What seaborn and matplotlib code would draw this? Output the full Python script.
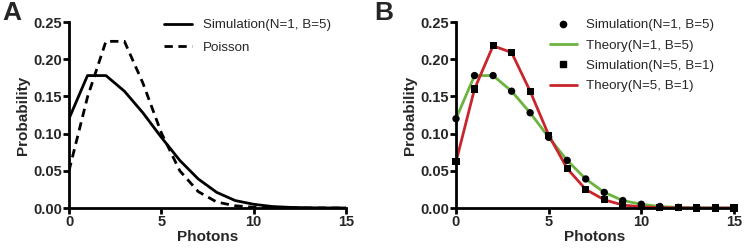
import matplotlib
matplotlib.use("Agg")
import matplotlib.pyplot as plt
import seaborn as sns
import pandas as pd
from matplotlib.lines import Line2D

photons = list(range(16))
sim_n1_b5 = [0.120, 0.178, 0.178, 0.157, 0.128, 0.095, 0.064, 0.039, 0.021, 0.010, 0.005, 0.002, 0.0008, 0.0003, 0.0001, 0.0]
poisson = [0.050, 0.149, 0.224, 0.224, 0.168, 0.101, 0.050, 0.022, 0.008, 0.003, 0.001, 0.0003, 0.0001, 0.0, 0.0, 0.0]
theory_n1_b5 = [0.120, 0.178, 0.178, 0.157, 0.128, 0.095, 0.064, 0.039, 0.021, 0.010, 0.005, 0.002, 0.0008, 0.0003, 0.0001, 0.0]
sim_n5_b1 = [0.062, 0.160, 0.218, 0.209, 0.157, 0.098, 0.053, 0.025, 0.011, 0.004, 0.0015, 0.0005, 0.0002, 0.0, 0.0, 0.0]
theory_n5_b1 = [0.062, 0.160, 0.218, 0.209, 0.157, 0.098, 0.053, 0.025, 0.011, 0.004, 0.0015, 0.0005, 0.0002, 0.0, 0.0, 0.0]

x_ticks = [0, 5, 10, 15]
y_ticks = [0.00, 0.05, 0.10, 0.15, 0.20, 0.25]
y_ticklabels = ["0.00", "0.05", "0.10", "0.15", "0.20", "0.25"]

GREEN = "#6cb33f"
RED = "#c9252c"

sns.set_style("ticks")
plt.rcParams["font.family"] = ["Liberation Sans", "DejaVu Sans"]

df = pd.DataFrame({
    "photons": photons,
    "sim1": sim_n1_b5,
    "poisson": poisson,
    "th1": theory_n1_b5,
    "sim5": sim_n5_b1,
    "th5": theory_n5_b1,
})

fig = plt.figure(figsize=(7.44, 2.52), dpi=100)
axA = fig.add_axes([69/744, 1-208/252, (346-69)/744, (208-22)/252])
axB = fig.add_axes([456/744, 1-208/252, (734-456)/744, (208-22)/252])

# Panel A
sns.lineplot(data=df, x="photons", y="sim1", ax=axA, color="black", lw=2, label="Simulation(N=1, B=5)")
sns.lineplot(data=df, x="photons", y="poisson", ax=axA, color="black", lw=2, label="Poisson")
axA.lines[1].set_dashes([3.0, 2.0])

# Panel B
sns.lineplot(data=df, x="photons", y="th1", ax=axB, color=GREEN, lw=2)
sns.lineplot(data=df, x="photons", y="th5", ax=axB, color=RED, lw=2)
sns.scatterplot(data=df, x="photons", y="sim1", ax=axB, color="black", marker="o", s=28, edgecolor="none", clip_on=False, zorder=5)
sns.scatterplot(data=df, x="photons", y="sim5", ax=axB, color="black", marker="s", s=26, edgecolor="none", clip_on=False, zorder=5)

for ax in (axA, axB):
    ax.set_xlim(0, 15)
    ax.set_ylim(0, 0.25)
    ax.set_xticks(x_ticks)
    ax.set_xticklabels([str(t) for t in x_ticks], fontsize=10.5, fontweight="bold")
    ax.set_yticks(y_ticks)
    ax.set_yticklabels(y_ticklabels, fontsize=10.5, fontweight="bold")
    ax.tick_params(axis="both", length=4, width=2, pad=1.0, color="black")
    for s in ("left", "bottom"):
        ax.spines[s].set_linewidth(2)
        ax.spines[s].set_color("black")
    sns.despine(ax=ax)
    ax.set_xlabel("Photons", fontsize=11, fontweight="bold", labelpad=1)
    ax.set_ylabel("Probability", fontsize=11, fontweight="bold", labelpad=2)

legA = axA.legend(loc="upper left", bbox_to_anchor=(0.30, 1.08), frameon=False, fontsize=9.6,
                  handlelength=2.1, handletextpad=0.8, labelspacing=0.75)

hB = [
    Line2D([], [], color="black", marker="o", ls="none", markersize=4.5),
    Line2D([], [], color=GREEN, lw=2),
    Line2D([], [], color="black", marker="s", ls="none", markersize=4.5),
    Line2D([], [], color=RED, lw=2),
]
lB = ["Simulation(N=1, B=5)", "Theory(N=1, B=5)", "Simulation(N=5, B=1)", "Theory(N=5, B=1)"]
axB.legend(hB, lB, loc="upper left", bbox_to_anchor=(0.295, 1.08), frameon=False, fontsize=9.6,
           handlelength=2.0, handletextpad=0.7, labelspacing=0.6)

fig.text(2/744, 1-20/252, "A", fontsize=19, fontweight="bold", va="baseline", ha="left")
fig.text(374/744, 1-20/252, "B", fontsize=19, fontweight="bold", va="baseline", ha="left")

fig.savefig("out.png", dpi=100)
